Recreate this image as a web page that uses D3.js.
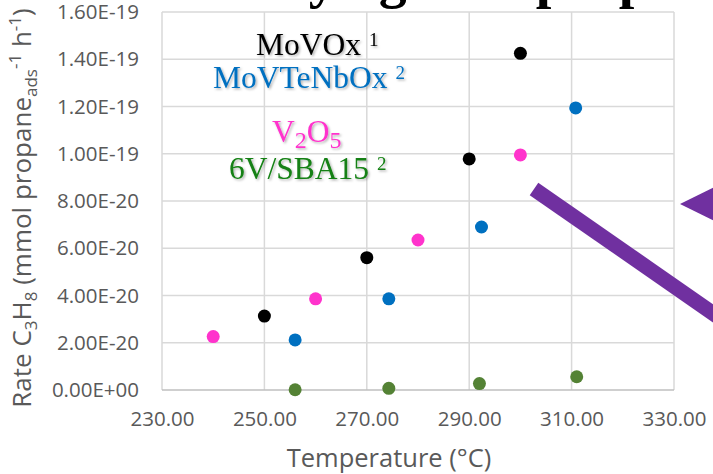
<!DOCTYPE html>
<html>
<head>
<meta charset="utf-8">
<script src="https://cdn.jsdelivr.net/npm/d3@7"></script>
<style>
  body { margin: 0; background: #fff; }
  svg { display: block; }
</style>
</head>
<body>
<div id="chart"></div>
<script>
// Chart data
const xTicks = [230, 250, 270, 290, 310, 330];
const xTickLabels = ['230.00', '250.00', '270.00', '290.00', '310.00', '330.00'];
const yTicks = [0, 2e-20, 4e-20, 6e-20, 8e-20, 1e-19, 1.2e-19, 1.4e-19, 1.6e-19];
const yTickLabels = ['0.00E+00', '2.00E-20', '4.00E-20', '6.00E-20', '8.00E-20',
                     '1.00E-19', '1.20E-19', '1.40E-19', '1.60E-19'];

const movoxTemp = [250, 270, 290, 300];
const movoxRate = [3.13e-20, 5.60e-20, 9.78e-20, 1.425e-19];

const movtenboxTemp = [256, 274.3, 292.4, 310.8];
const movtenboxRate = [2.12e-20, 3.86e-20, 6.90e-20, 1.194e-19];

const v2o5Temp = [240, 260, 280, 300];
const v2o5Rate = [2.26e-20, 3.86e-20, 6.35e-20, 9.95e-20];

const sba15Temp = [256, 274.3, 292, 311];
const sba15Rate = [0.01e-20, 0.07e-20, 0.27e-20, 0.56e-20];

const SERIES = [
    { name: 'MoVOx', temps: movoxTemp, rates: movoxRate, color: '#000000' },
    { name: 'MoVTeNbOx', temps: movtenboxTemp, rates: movtenboxRate, color: '#0070C0' },
    { name: 'V2O5', temps: v2o5Temp, rates: v2o5Rate, color: '#FF33CC' },
    { name: '6V/SBA15', temps: sba15Temp, rates: sba15Rate, color: '#548235' }
];

const width = 713;
const height = 474;
const margin = { top: 12, right: 39, bottom: 84, left: 162 };

const svg = d3.select('#chart')
    .append('svg')
    .attr('width', width)
    .attr('height', height);

const x = d3.scaleLinear()
    .domain([230, 330])
    .range([margin.left, width - margin.right]);

const y = d3.scaleLinear()
    .domain([0, 1.6e-19])
    .range([height - margin.bottom, margin.top]);

// soft shadow for the legend words
const defs = svg.append('defs');
defs.append('filter')
    .attr('id', 'shadow')
    .attr('x', '-10%').attr('y', '-20%')
    .attr('width', '130%').attr('height', '150%')
    .append('feDropShadow')
    .attr('dx', 1.5).attr('dy', 1.5)
    .attr('stdDeviation', 1)
    .attr('flood-color', '#000')
    .attr('flood-opacity', 0.3);

drawTitle();
drawGrid();
drawAxes();
drawPoints();
drawLegend();
drawArrow();

// Cut-off title at the very top, only descenders show
function drawTitle() {
    svg.append('text')
        .attr('x', 147)
        .attr('y', -3)
        .style('font-family', '"Liberation Serif", serif')
        .style('font-weight', 'bold')
        .style('font-size', '56px')
        .text('Activity against propane');
}

function drawGrid() {
    const g = svg.append('g');

    g.selectAll('line.h')
        .data(yTicks.slice(1))
        .enter()
        .append('line')
        .attr('class', 'h')
        .attr('x1', margin.left)
        .attr('x2', width - margin.right)
        .attr('y1', d => y(d))
        .attr('y2', d => y(d))
        .attr('stroke', '#d9d9d9')
        .attr('stroke-width', 1.5);

    g.selectAll('line.v')
        .data(xTicks)
        .enter()
        .append('line')
        .attr('class', 'v')
        .attr('x1', d => x(d))
        .attr('x2', d => x(d))
        .attr('y1', y(1.6e-19))
        .attr('y2', y(0))
        .attr('stroke', '#d9d9d9')
        .attr('stroke-width', 1.5);

    // baseline
    g.append('line')
        .attr('x1', margin.left)
        .attr('x2', width - margin.right)
        .attr('y1', y(0))
        .attr('y2', y(0))
        .attr('stroke', '#bfbfbf')
        .attr('stroke-width', 1.5);
}

function drawAxes() {
    const tickFont = '"Open Sans", sans-serif';

    const xAxis = d3.axisBottom(x)
        .tickValues(xTicks)
        .tickFormat((d, i) => xTickLabels[i])
        .tickSize(0)
        .tickPadding(21);

    const gx = svg.append('g')
        .attr('transform', `translate(0,${y(0)})`)
        .call(xAxis);
    gx.select('.domain').remove();
    gx.selectAll('text')
        .style('font-family', tickFont)
        .style('font-size', '20.5px')
        .attr('fill', '#595959');

    const yAxis = d3.axisLeft(y)
        .tickValues(yTicks)
        .tickFormat((d, i) => yTickLabels[i])
        .tickSize(0)
        .tickPadding(23);

    const gy = svg.append('g')
        .attr('transform', `translate(${margin.left},0)`)
        .call(yAxis);
    gy.select('.domain').remove();
    gy.selectAll('text')
        .style('font-family', tickFont)
        .style('font-size', '20.5px')
        .attr('fill', '#595959');

    // x axis title
    svg.append('text')
        .attr('x', 389)
        .attr('y', 467)
        .attr('text-anchor', 'middle')
        .style('font-family', tickFont)
        .style('font-size', '25.5px')
        .attr('fill', '#595959')
        .text('Temperature (°C)');

    // y axis title with sub/superscripts
    const yt = svg.append('text')
        .attr('transform', `translate(31,${(margin.top + height - margin.bottom) / 2 + 7}) rotate(-90)`)
        .attr('text-anchor', 'middle')
        .style('font-family', tickFont)
        .style('font-size', '26px')
        .attr('fill', '#595959');
    yt.append('tspan').text('Rate C');
    yt.append('tspan').attr('dy', 6).style('font-size', '17px').text('3');
    yt.append('tspan').attr('dy', -6).text('H');
    yt.append('tspan').attr('dy', 6).style('font-size', '17px').text('8');
    yt.append('tspan').attr('dy', -6).text(' (mmol propane');
    yt.append('tspan').attr('dy', 6).style('font-size', '17px').text('ads');
    yt.append('tspan').attr('dy', -16).style('font-size', '17px').text('-1');
    yt.append('tspan').attr('dy', 10).text(' h');
    yt.append('tspan').attr('dy', -10).style('font-size', '17px').text('-1');
    yt.append('tspan').attr('dy', 10).text(')');
}

function drawPoints() {
    SERIES.forEach(s => {
        const pts = s.temps.map((t, i) => ({ t: t, r: s.rates[i] }));
        svg.append('g')
            .selectAll('circle')
            .data(pts)
            .enter()
            .append('circle')
            .attr('cx', d => x(d.t))
            .attr('cy', d => y(d.r))
            .attr('r', 6.5)
            .attr('fill', s.color);
    });
}

function drawLegend() {
    const g = svg.append('g')
        .style('font-family', '"Liberation Serif", "Times New Roman", serif')
        .style('font-size', '31.5px')
        .attr('filter', 'url(#shadow)');

    const t1 = g.append('text').attr('x', 256).attr('y', 55).attr('fill', '#000000');
    t1.append('tspan').text('MoVOx ');
    t1.append('tspan').attr('dy', -9).style('font-size', '19px').text('1');

    const t2 = g.append('text').attr('x', 213).attr('y', 88).attr('fill', '#0070C0');
    t2.append('tspan').text('MoVTeNbOx ');
    t2.append('tspan').attr('dy', -9).style('font-size', '19px').text('2');

    const t3 = g.append('text').attr('x', 272).attr('y', 142).attr('fill', '#FF33CC');
    t3.append('tspan').text('V');
    t3.append('tspan').attr('dy', 6).style('font-size', '24px').text('2');
    t3.append('tspan').attr('dy', -6).text('O');
    t3.append('tspan').attr('dy', 6).style('font-size', '24px').text('5');

    const t4 = g.append('text').attr('x', 229).attr('y', 179).attr('fill', '#138013');
    t4.append('tspan').text('6V/SBA15 ');
    t4.append('tspan').attr('dy', -9).style('font-size', '19px').text('2');
}

// purple annotation arrow, running off the right edge
function drawArrow() {
    svg.append('line')
        .attr('x1', 534)
        .attr('y1', 189)
        .attr('x2', 740)
        .attr('y2', 332)
        .attr('stroke', '#7030A0')
        .attr('stroke-width', 15);

    svg.append('path')
        .attr('d', 'M680,204 L725,182 L725,226 Z')
        .attr('fill', '#7030A0');
}
</script>
</body>
</html>
